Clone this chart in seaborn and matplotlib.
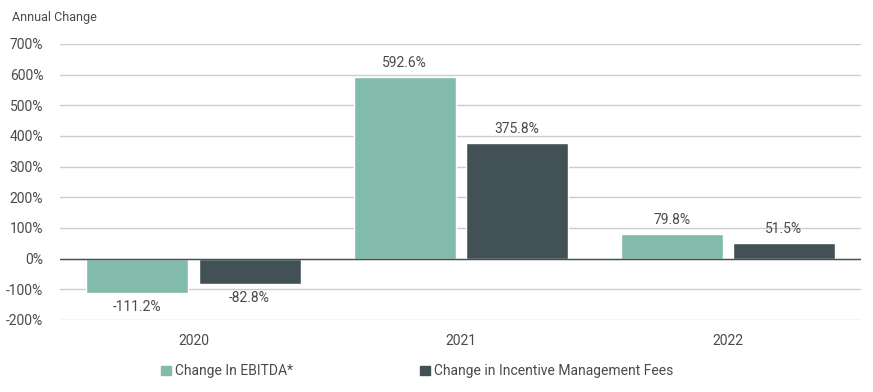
import pandas as pd
import matplotlib.pyplot as plt
import seaborn as sns

# --- DATA ---
years = ["2020", "2021", "2022"]
ebitda_change = [-111.2, 592.6, 79.8]
fees_change = [-82.8, 375.8, 51.5]
series_names = ["Change In EBITDA*", "Change in Incentive Management Fees"]
colors = ["#82bbac", "#425156"]

df = pd.DataFrame({
    "year": years * 2,
    "value": ebitda_change + fees_change,
    "series": [series_names[0]] * 3 + [series_names[1]] * 3,
})

# --- VISUAL CONFIGURATION ---
sns.set_theme(style="white")
plt.rcParams['font.family'] = ['Roboto', 'DejaVu Sans']
text_color = "#4a4a4a"

fig = plt.figure(figsize=(8.73, 3.92), dpi=100)
ax = fig.add_axes([0.0687, 0.184, 0.918, 0.704])

sns.barplot(data=df, x="year", y="value", hue="series", palette=colors,
            width=0.84, gap=0.09, saturation=1, ax=ax, legend=False)

ax.set_ylim(-200, 700)
ax.set_yticks(range(-200, 701, 100))
ax.set_yticklabels([f"{v}%" for v in range(-200, 701, 100)])
ax.yaxis.grid(True, color="#cccccc", linewidth=1)
ax.set_axisbelow(True)
ax.axhline(0, color="#425156", linewidth=1, zorder=1)
for s in ax.spines.values():
    s.set_visible(False)
ax.tick_params(axis="y", length=0, pad=12, labelsize=10, labelcolor=text_color)
ax.tick_params(axis="x", length=0, pad=10, labelsize=10, labelcolor=text_color)
ax.set_xlabel("")
ax.set_ylabel("")

for cont in ax.containers:
    ax.bar_label(cont, labels=[f"{v:.1f}%" for v in cont.datavalues],
                 padding=5, fontsize=10, color=text_color)

fig.text(0.0137, 0.955, "Annual Change", fontsize=9, color=text_color, va="center")

# legend
handles = [plt.Rectangle((0, 0), 1, 1, color=c) for c in colors]
fig.legend(handles[:1], series_names[:1], loc="center left", bbox_to_anchor=(0.17, 0.053),
           frameon=False, fontsize=10, handlelength=0.7, handleheight=0.7, handletextpad=0.3,
           labelcolor=text_color)
fig.legend(handles[1:], series_names[1:], loc="center left", bbox_to_anchor=(0.467, 0.053),
           frameon=False, fontsize=10, handlelength=0.7, handleheight=0.7, handletextpad=0.3,
           labelcolor=text_color)

plt.savefig("out.png", dpi=100)
